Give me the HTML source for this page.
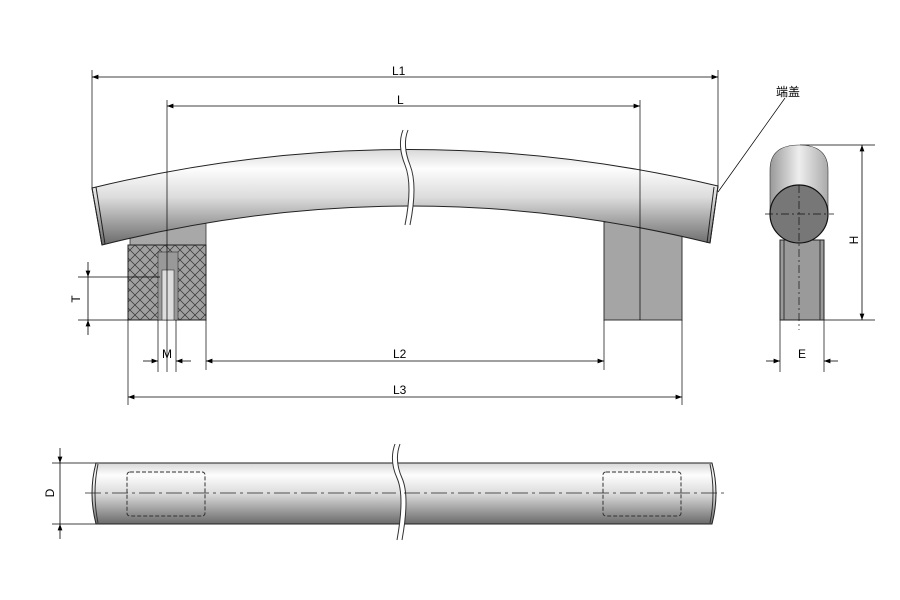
<!DOCTYPE html>
<html><head><meta charset="utf-8"><style>body{margin:0;background:#fff}svg{display:block}text{font-family:"Liberation Sans","Noto Sans CJK SC",sans-serif;font-size:12px;fill:#000}</style></head><body>
<svg width="900" height="600" viewBox="0 0 900 600" xmlns="http://www.w3.org/2000/svg">
<defs>
<linearGradient id="bar" x1="0" y1="0" x2="0" y2="1"><stop offset="0" stop-color="#d8d8d8"/><stop offset=".2" stop-color="#fdfdfd"/><stop offset=".5" stop-color="#dcdcdc"/><stop offset="1" stop-color="#6a6a6a"/></linearGradient>
<linearGradient id="cap" x1="0" y1="0" x2="1" y2="0"><stop offset="0" stop-color="#999"/><stop offset=".5" stop-color="#eee"/><stop offset="1" stop-color="#aaa"/></linearGradient>
<pattern id="hatch" width="10" height="10" patternUnits="userSpaceOnUse"><rect width="10" height="10" fill="#a0a0a0"/><path d="M0 0L10 10M10 0L0 10" stroke="#333" stroke-width=".7"/></pattern>
<marker id="a" markerWidth="8" markerHeight="6" refX="8" refY="3" orient="auto-start-reverse"><path d="M0 0L8 3L0 6z" fill="#000"/></marker>
</defs>
<path d="M130 230L206 222L206 248L130 248Z" fill="#a8a8a8" stroke="#333" stroke-width=".8"/>
<rect x="128" y="245" width="78" height="75" fill="url(#hatch)" stroke="#222"/>
<rect x="158" y="252" width="20" height="68" fill="#999" stroke="#333" stroke-width=".6"/>
<rect x="162" y="270" width="12" height="50" fill="#ddd" stroke="#333" stroke-width=".6"/>
<rect x="604" y="222" width="78" height="98" fill="#a5a5a5" stroke="#333"/>
<path d="M92 188Q405 112 718 186L710 243Q406 168 102 245Z" fill="url(#bar)" stroke="#222"/>
<path d="M403 130Q397 145 405 165Q413 185 405 225L410 225Q418 185 410 165Q402 145 408 130Z" fill="#fff"/>
<path d="M403 130Q397 145 405 165Q413 185 405 225M408 130Q402 145 410 165Q418 185 410 225" fill="none" stroke="#333"/>
<path d="M92 188L102 245M96 187L105 244M718 186L710 243M714 187L707 243" stroke="#222" fill="none"/>
<g stroke="#000" stroke-width=".7">
<line x1="92" y1="70" x2="92" y2="188"/><line x1="718" y1="70" x2="718" y2="186"/>
<line x1="167" y1="100" x2="167" y2="372"/><line x1="640" y1="100" x2="640" y2="320"/>
<line x1="128" y1="320" x2="128" y2="405"/><line x1="206" y1="320" x2="206" y2="370"/>
<line x1="604" y1="320" x2="604" y2="370"/><line x1="682" y1="320" x2="682" y2="405"/>
<line x1="158" y1="320" x2="158" y2="372"/><line x1="176" y1="320" x2="176" y2="372"/>
<line x1="78" y1="277" x2="160" y2="277"/><line x1="78" y1="320" x2="128" y2="320"/>
<line x1="780" y1="320" x2="780" y2="372"/><line x1="824" y1="320" x2="824" y2="372"/>
<line x1="800" y1="145" x2="875" y2="145"/><line x1="824" y1="320" x2="875" y2="320"/>
<line x1="52" y1="463" x2="100" y2="463"/><line x1="52" y1="524" x2="100" y2="524"/>
<line x1="718" y1="192" x2="785" y2="98"/>
</g>
<g stroke="#000" stroke-width=".8" fill="none">
<line x1="92" y1="77" x2="718" y2="77" marker-start="url(#a)" marker-end="url(#a)"/>
<line x1="167" y1="106" x2="640" y2="106" marker-start="url(#a)" marker-end="url(#a)"/>
<line x1="206" y1="361" x2="604" y2="361" marker-start="url(#a)" marker-end="url(#a)"/>
<line x1="128" y1="397" x2="682" y2="397" marker-start="url(#a)" marker-end="url(#a)"/>
<line x1="88" y1="262" x2="88" y2="277" marker-end="url(#a)"/><line x1="88" y1="335" x2="88" y2="320" marker-end="url(#a)"/>
<line x1="88" y1="277" x2="88" y2="320"/>
<line x1="143" y1="361" x2="158" y2="361" marker-end="url(#a)"/><line x1="191" y1="361" x2="176" y2="361" marker-end="url(#a)"/>
<line x1="766" y1="361" x2="780" y2="361" marker-end="url(#a)"/><line x1="838" y1="361" x2="824" y2="361" marker-end="url(#a)"/>
<line x1="862" y1="145" x2="862" y2="320" marker-start="url(#a)" marker-end="url(#a)"/>
<line x1="60" y1="448" x2="60" y2="463" marker-end="url(#a)"/><line x1="60" y1="539" x2="60" y2="524" marker-end="url(#a)"/>
<line x1="60" y1="463" x2="60" y2="524"/>
</g>
<text x="392" y="75">L1</text><text x="397" y="104">L</text><text x="393" y="358">L2</text><text x="393" y="394">L3</text>
<text x="162" y="358">M</text><text x="798" y="358">E</text><text x="776" y="96">端盖</text>
<text transform="translate(80,299) rotate(-90)" text-anchor="middle">T</text>
<text transform="translate(858,240) rotate(-90)" text-anchor="middle">H</text>
<text transform="translate(54,493) rotate(-90)" text-anchor="middle">D</text>
<rect x="780" y="240" width="44" height="80" fill="#9a9a9a" stroke="#222"/>
<line x1="784" y1="240" x2="784" y2="320" stroke="#333"/><line x1="820" y1="240" x2="820" y2="320" stroke="#333"/>
<path d="M770 214L770 170Q770 145 799 145Q828 145 828 170L828 214Z" fill="url(#cap)" stroke="#333" stroke-width=".6"/>
<circle cx="799" cy="214" r="29" fill="#777" stroke="#111" stroke-width="1.2"/>
<g stroke="#111" stroke-width=".7" stroke-dasharray="8 3 2 3"><line x1="765" y1="214" x2="834" y2="214"/><line x1="799" y1="185" x2="799" y2="330"/></g>
<path d="M96 463H712Q720 493 712 524H96Q88 493 96 463Z" fill="url(#bar)" stroke="#222"/>
<path d="M98 464Q92 493 98 523M710 464Q716 493 710 523" stroke="#333" fill="none"/>
<path d="M395 444Q389 460 397 478Q405 496 397 540L402 540Q410 496 402 478Q394 460 400 444Z" fill="#fff"/>
<path d="M395 444Q389 460 397 478Q405 496 397 540M400 444Q394 460 402 478Q410 496 402 540" fill="none" stroke="#333"/>
<g fill="none" stroke="#333" stroke-dasharray="4 2"><rect x="127" y="472" width="78" height="44" rx="3"/><rect x="603" y="472" width="78" height="44" rx="3"/></g>
<g stroke="#222" stroke-width=".7" stroke-dasharray="16 4 3 4"><line x1="85" y1="493" x2="396" y2="493"/><line x1="404" y1="493" x2="725" y2="493"/></g>
</svg>
</body></html>
